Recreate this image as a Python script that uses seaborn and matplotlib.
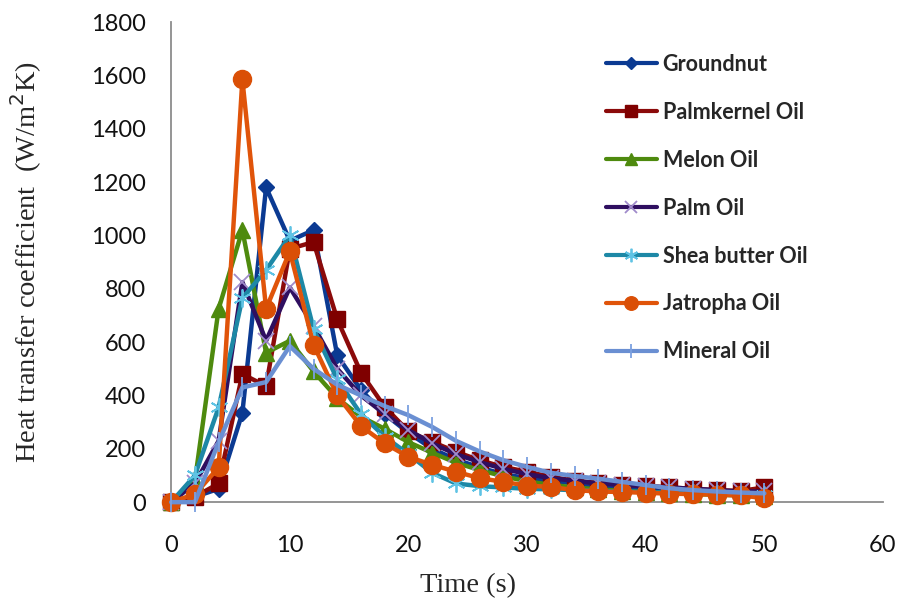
import matplotlib
matplotlib.use("Agg")
import matplotlib.pyplot as plt
import seaborn as sns
import pandas as pd

time_s = [0, 2, 4, 6, 8, 10, 12, 14, 16, 18, 20, 22, 24, 26, 28, 30, 32, 34, 36, 38, 40, 42, 44, 46, 48, 50]

groundnut = [0, 20, 50, 335, 1180, 980, 1020, 550, 420, 330, 260, 200, 160, 130, 105, 90, 80, 70, 60, 55, 50, 45, 40, 38, 35, 30]
palmkernel = [0, 20, 70, 480, 435, 950, 975, 685, 485, 357, 265, 226, 189, 157, 132, 114, 95, 80, 72, 66, 60, 55, 50, 45, 42, 55]
melon = [0, 80, 725, 1020, 560, 605, 490, 390, 320, 275, 225, 185, 148, 120, 97, 78, 65, 55, 48, 42, 38, 34, 30, 28, 25, 22]
palm = [0, 70, 230, 825, 605, 805, 660, 500, 400, 330, 270, 220, 180, 150, 125, 105, 90, 80, 70, 65, 60, 55, 50, 45, 40, 40]
shea = [0, 100, 355, 765, 870, 1000, 650, 460, 330, 245, 180, 110, 70, 60, 55, 50, 48, 45, 42, 40, 38, 35, 33, 30, 28, 25]
jatropha = [0, 30, 130, 1585, 725, 940, 590, 400, 285, 220, 170, 140, 114, 90, 76, 62, 57, 45, 40, 38, 35, 32, 30, 28, 25, 15]
mineral = [0, 0, 225, 430, 450, 585, 500, 440, 400, 360, 326, 282, 230, 190, 157, 132, 110, 98, 88, 76, 64, 52, 45, 40, 36, 33]

series_names = ["Groundnut", "Palmkernel Oil", "Melon Oil", "Palm Oil",
                "Shea butter Oil", "Jatropha Oil", "Mineral Oil"]
series_values = [groundnut, palmkernel, melon, palm, shea, jatropha, mineral]

styles = {
    "Groundnut": dict(color="#0B3A92", marker="D", ms=8, mfc="#0B3A92", mec="#0B3A92"),
    "Palmkernel Oil": dict(color="#8B0A0A", marker="s", ms=12, mfc="#7F0000", mec="#7F0000"),
    "Melon Oil": dict(color="#4E8A0E", marker="^", ms=11, mfc="#4E8A0E", mec="#4E8A0E"),
    "Palm Oil": dict(color="#2F0F60", marker="x", ms=11, mfc="#A08BCB", mec="#A08BCB", mew=1.3),
    "Shea butter Oil": dict(color="#1D88A6", marker=(6, 2, 0), ms=13, mfc="#5FC3E4", mec="#5FC3E4", mew=1.3),
    "Jatropha Oil": dict(color="#E0540A", marker="o", ms=13, mfc="#DA4F06", mec="#DA4F06"),
    "Mineral Oil": dict(color="#6A8FD2", marker="|", ms=14, mfc="#6A8FD2", mec="#7BA0E0", mew=1.3),
}

df = pd.DataFrame({"Time": time_s * len(series_names),
                   "h": [v for vals in series_values for v in vals],
                   "Oil": [n for n in series_names for _ in time_s]})

sns.set_style("white")
plt.rcParams["font.family"] = ["Lato", "DejaVu Sans"]

fig = plt.figure(figsize=(9.01, 6.05), dpi=100)
ax = fig.add_axes([0.19, 0.17, 0.79, 0.7936])

for name in series_names:
    st = styles[name]
    sub = df[df["Oil"] == name]
    sns.lineplot(data=sub, x="Time", y="h", ax=ax, label=name,
                 color=st["color"], marker=st["marker"], markersize=st["ms"],
                 markerfacecolor=st["mfc"], markeredgecolor=st["mec"],
                 markeredgewidth=st.get("mew", 1.0), linewidth=3.2,
                 clip_on=False, zorder=3)

ax.set_xlim(0, 60)
ax.set_ylim(0, 1800)
ax.set_xticks(range(0, 61, 10))
ax.set_yticks(range(0, 1801, 200))
for s in ["top", "right"]:
    ax.spines[s].set_visible(False)
for s in ["left", "bottom"]:
    ax.spines[s].set_color("#8C8C8C")
    ax.spines[s].set_linewidth(1.3)
ax.tick_params(axis="both", direction="out", length=6, width=1.3, color="#8C8C8C",
               labelsize=17, labelcolor="#111111")
ax.tick_params(axis="y", pad=12)
ax.tick_params(axis="x", pad=18)

ax.set_xlabel("Time (s)", family="Liberation Serif", fontsize=20.5)
ax.set_ylabel("Heat transfer coefficient  (W/m$^2$K)", family="Liberation Serif",
              fontsize=20.5)
ax.xaxis.set_label_coords(0.417, -0.148)
ax.yaxis.set_label_coords(-0.178, 0.5)

leg = ax.legend(loc="upper left", bbox_to_anchor=(0.583, 0.974), frameon=False,
                handlelength=2.4, handletextpad=0.25, labelspacing=1.25,
                prop={"family": "Lato", "weight": "bold", "size": 15.5})
for h in leg.legend_handles:
    h.set_linewidth(3.0)
    h.set_markersize(h.get_markersize() * 0.75)

fig.savefig("out.png", dpi=100)
